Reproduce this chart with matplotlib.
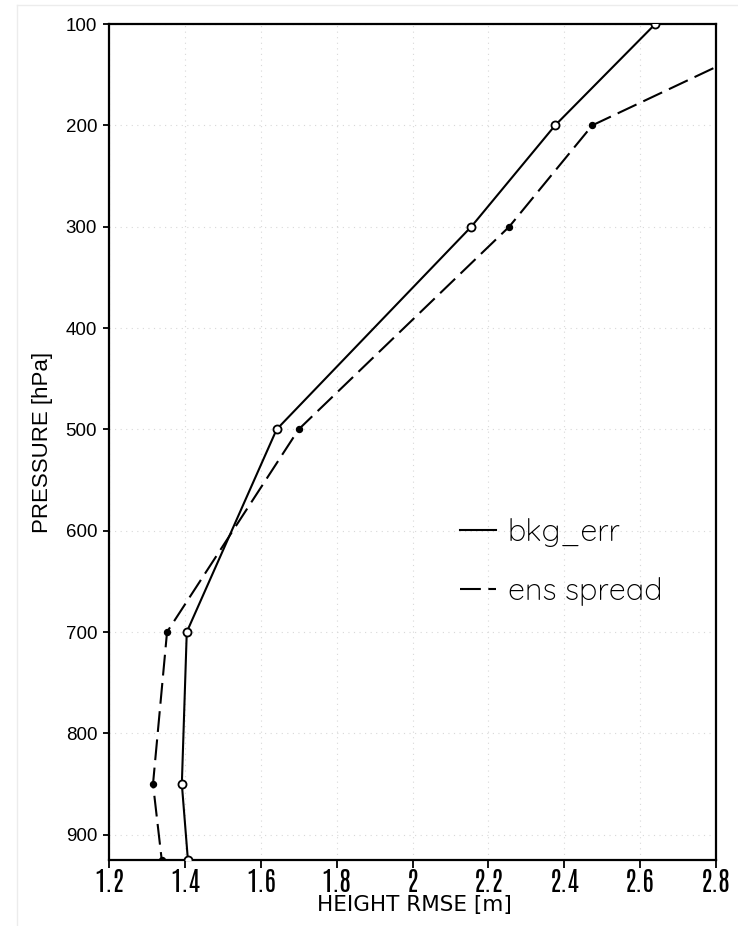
import matplotlib
matplotlib.use("Agg")
import matplotlib.pyplot as plt
from matplotlib.lines import Line2D

# ---- data ----
pressure = [100, 200, 300, 500, 700, 850, 925]
bkg_err = [2.64, 2.376, 2.155, 1.642, 1.405, 1.392, 1.408]
ens_spread = [3.04, 2.474, 2.255, 1.70, 1.353, 1.316, 1.339]
series_labels = ["bkg_err", "ens spread"]
x_ticks = [1.2, 1.4, 1.6, 1.8, 2.0, 2.2, 2.4, 2.6, 2.8]
x_tick_labels = ["1.2", "1.4", "1.6", "1.8", "2", "2.2", "2.4", "2.6", "2.8"]
y_ticks = [100, 200, 300, 400, 500, 600, 700, 800, 900]

W, H = 738, 926
fig = plt.figure(figsize=(W / 100, H / 100), dpi=100)
ax = fig.add_axes([109 / W, 1 - 860 / H, (716 - 109) / W, (860 - 24) / H])

narrow = ["Antonio", "DejaVu Sans"]
sans = ["Liberation Sans", "DejaVu Sans"]
thin = ["Quicksand", "DejaVu Sans"]

lw = 1.5
ax.plot(bkg_err, pressure, color="black", lw=lw, marker="o", ms=5.8,
        mfc="white", mec="black", mew=1.3, zorder=3)
ax.plot(ens_spread, pressure, color="black", lw=lw, dashes=(10, 3.6),
        marker="o", ms=4.3, mfc="black", mec="black", zorder=3)

ax.set_xlim(1.2, 2.8)
ax.set_ylim(925, 100)
ax.set_xticks(x_ticks)
ax.set_xticklabels(x_tick_labels, fontfamily=narrow, fontsize=19.5)
ax.set_yticks(y_ticks)
ax.set_yticklabels([str(v) for v in y_ticks], fontfamily=sans, fontsize=13.5)

ax.tick_params(axis="y", direction="out", length=4.5, width=1.3, pad=4)
ax.tick_params(axis="x", direction="out", length=6, width=1.3, pad=0.5)
for s in ax.spines.values():
    s.set_linewidth(1.6)

ax.grid(True, color="#d8d8d8", linestyle=(0, (1, 4)), linewidth=0.8)
ax.set_axisbelow(True)

# legend
handles = [Line2D([], [], color="black", lw=lw),
           Line2D([], [], color="black", lw=lw, dashes=(10, 3.6))]
leg = fig.legend(handles, series_labels, loc="center left",
                 bbox_to_anchor=(460 / W, 1 - 562 / H), frameon=False,
                 fontsize=22, handlelength=1.18, handletextpad=0.38,
                 labelspacing=0.98, borderpad=0, borderaxespad=0)
for t in leg.get_texts():
    t.set_fontfamily(thin)

fig.text(414 / W, 1 - 905 / H, "HEIGHT RMSE [m]", ha="center", va="center",
         fontfamily=["DejaVu Sans"], fontsize=15.5)
fig.text(43 / W, 1 - 442 / H, "PRESSURE [hPa]", ha="center", va="center",
         rotation=90, fontfamily=sans, fontsize=16)

# faint outer frame
fig.add_artist(Line2D([17 / W, 1], [1 - 5 / H, 1 - 5 / H], color="#ececec", lw=1))
fig.add_artist(Line2D([17 / W, 17 / W], [0, 1 - 5 / H], color="#ececec", lw=1))

fig.savefig("out.png", dpi=100)
